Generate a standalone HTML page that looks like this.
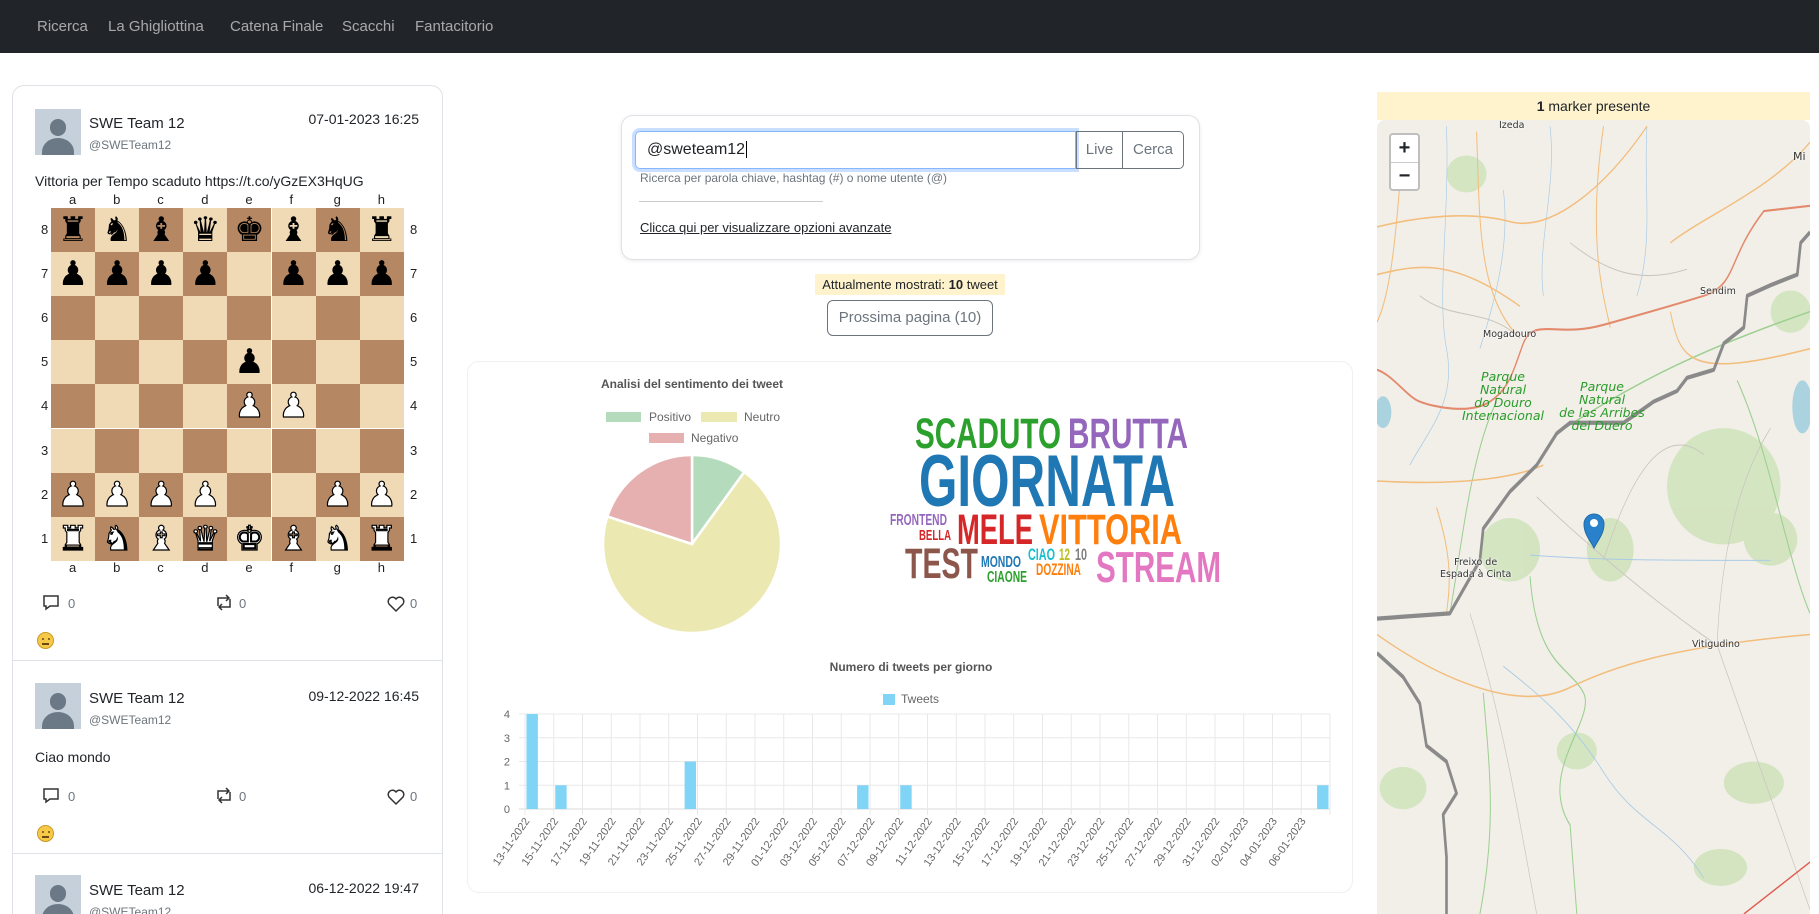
<!DOCTYPE html>
<html style="width:1819px;height:914px;overflow:hidden"><head><meta charset="utf-8"><style>
*{box-sizing:border-box;margin:0;padding:0}
body{width:1819px;height:914px;overflow:hidden;background:#fff;font-family:"Liberation Sans",sans-serif;position:relative;color:#212529}
.a{position:absolute;white-space:nowrap}
.nav{left:0;top:0;width:1819px;height:53px;background:#212529}
.nav span{position:absolute;top:18px;font-size:15px;color:rgba(255,255,255,.6)}
.card{border:1px solid #dee2e6;border-radius:12px;background:#fff}
.sq{position:absolute;width:44.1px;height:44.1px;text-align:center;font-family:"DejaVu Sans",sans-serif;font-size:34px;line-height:44px;color:#000}
.coord{position:absolute;font-size:13px;color:#222}
.gray{color:#6c757d}
.av{background:#c5d0da;overflow:hidden}
.av:before{content:"";position:absolute;left:32%;top:22%;width:36%;height:36%;border-radius:50%;background:#6b7886}
.av:after{content:"";position:absolute;left:15%;top:62%;width:70%;height:60%;border-radius:50% 50% 0 0;background:#6b7886}
.emo{width:17px;height:17px;border-radius:50%;background:#f7c948;border:1px solid #c99a22}
.emo:after{content:"";position:absolute;left:4px;top:10px;width:7px;height:1.5px;background:#6b4a10}
.emo:before{content:"";position:absolute;left:3.5px;top:5px;width:2px;height:2px;background:#6b4a10;box-shadow:6px 0 #6b4a10;border-radius:50%}
.ml{font-family:"DejaVu Sans",sans-serif;font-size:9.5px;color:#333;text-shadow:0 0 2px #fff,0 0 2px #fff}
.pk{font-family:"DejaVu Sans",sans-serif;font-style:italic;font-size:12.5px;color:#2a9c2a;text-align:center;line-height:13px}
</style></head><body>
<div class="a nav"><span style="left:37px">Ricerca</span><span style="left:108px">La Ghigliottina</span><span style="left:230px">Catena Finale</span><span style="left:342px">Scacchi</span><span style="left:415px">Fantacitorio</span></div>

<div class="a card" style="left:12px;top:85px;width:431px;height:829px;border-bottom:none;border-radius:12px 12px 0 0"></div>
<div class="a" style="left:12px;top:660px;width:431px;height:1px;background:#dee2e6"></div>
<div class="a" style="left:12px;top:853px;width:431px;height:1px;background:#dee2e6"></div>

<div class="a av" style="left:35px;top:109px;width:46px;height:46px"></div>
<div class="a" style="left:89px;top:115px;font-size:15px">SWE Team 12</div>
<div class="a gray" style="left:89px;top:138px;font-size:12px">@SWETeam12</div>
<div class="a" style="left:308px;top:111px;font-size:14px;width:111px;text-align:right">07-01-2023 16:25</div>
<div class="a" style="left:35px;top:173px;font-size:14px">Vittoria per Tempo scaduto https://t.co/yGzEX3HqUG</div>
<div id="board" class="a" style="left:51px;top:208px;width:353px;height:353px"></div>

<div class="a av" style="left:35px;top:683px;width:46px;height:46px"></div>
<div class="a" style="left:89px;top:690px;font-size:15px">SWE Team 12</div>
<div class="a gray" style="left:89px;top:713px;font-size:12px">@SWETeam12</div>
<div class="a" style="left:308px;top:688px;font-size:14px;width:111px;text-align:right">09-12-2022 16:45</div>
<div class="a" style="left:35px;top:749px;font-size:14px">Ciao mondo</div>

<div class="a av" style="left:35px;top:875px;width:46px;height:46px"></div>
<div class="a" style="left:89px;top:882px;font-size:15px">SWE Team 12</div>
<div class="a gray" style="left:89px;top:905px;font-size:12px">@SWETeam12</div>
<div class="a" style="left:308px;top:880px;font-size:14px;width:111px;text-align:right">06-12-2022 19:47</div>

<svg class="a" style="left:0;top:0" width="460" height="914">
<g fill="none" stroke="#333" stroke-width="1.5">
<g><path d="M44 596h14v10h-8l-4 3v-3h-2z"/><path d="M218 606v-8h11M226 595l3 3-3 3M230 599v8h-11M222 610l-3-3 3-3"/><path d="M396 611l-7-7a4 4 0 0 1 7-5a4 4 0 0 1 7 5z"/></g>
<g transform="translate(0,193)"><path d="M44 596h14v10h-8l-4 3v-3h-2z"/><path d="M218 606v-8h11M226 595l3 3-3 3M230 599v8h-11M222 610l-3-3 3-3"/><path d="M396 611l-7-7a4 4 0 0 1 7-5a4 4 0 0 1 7 5z"/></g>
</g>
<g font-family="Liberation Sans" font-size="13" fill="#6c757d"><text x="68" y="608">0</text><text x="239" y="608">0</text><text x="410" y="608">0</text>
<text x="68" y="801">0</text><text x="239" y="801">0</text><text x="410" y="801">0</text></g>
</svg>
<div class="a emo" style="left:37px;top:632px"></div>
<div class="a emo" style="left:37px;top:825px"></div>

<div class="a card" style="left:621px;top:115px;width:579px;height:145px;box-shadow:0 1px 4px rgba(0,0,0,.08)"></div>
<div class="a" style="left:635px;top:131px;width:441px;height:38px;border:1px solid #86b7fe;box-shadow:0 0 0 3px rgba(13,110,253,.22);border-radius:5px 0 0 5px;font-size:16px;padding:9px 11px">@sweteam12<span style="border-left:1px solid #000;margin-left:1px"></span></div>
<div class="a" style="left:1076px;top:131px;width:47px;height:38px;border:1px solid #6c757d;font-size:15px;color:#6c757d;text-align:center;line-height:36px">Live</div>
<div class="a" style="left:1122px;top:131px;width:62px;height:38px;border:1px solid #6c757d;border-radius:0 5px 5px 0;font-size:15px;color:#6c757d;text-align:center;line-height:36px">Cerca</div>
<div class="a gray" style="left:640px;top:171px;font-size:12px">Ricerca per parola chiave, hashtag (#) o nome utente (@)</div>
<div class="a" style="left:639px;top:201px;width:184px;height:1px;background:#ccc"></div>
<div class="a" style="left:640px;top:220px;font-size:13px;text-decoration:underline">Clicca qui per visualizzare opzioni avanzate</div>
<div class="a" style="left:815px;top:274px;width:190px;height:21px;background:#fff3cd;font-size:13px;line-height:21px;text-align:center">Attualmente mostrati: <b>10</b> tweet</div>
<div class="a" style="left:827px;top:300px;width:166px;height:36px;border:1px solid #6c757d;border-radius:6px;font-size:15px;color:#6c757d;text-align:center;line-height:34px">Prossima pagina (10)</div>

<div class="a card" style="left:467px;top:361px;width:886px;height:532px;border-color:#f0f0f0"></div>
<svg class="a" style="left:0;top:0" width="1819" height="914" font-family="Liberation Sans">
<text x="692" y="388" text-anchor="middle" font-size="12" font-weight="bold" fill="#555">Analisi del sentimento dei tweet</text>
<rect x="606" y="412" width="35" height="10" fill="#b4dcbc"/><text x="649" y="421" font-size="12" fill="#666">Positivo</text>
<rect x="701" y="412" width="36" height="10" fill="#ebe8b2"/><text x="744" y="421" font-size="12" fill="#666">Neutro</text>
<rect x="649" y="433" width="35" height="10" fill="#e6b0b0"/><text x="691" y="442" font-size="12" fill="#666">Negativo</text>
<g stroke="#fff" stroke-width="2.5">
<path d="M692,544 L692,455 A89,89 0 0 1 744.3,472 Z" fill="#b4dcbc"/>
<path d="M692,544 L744.3,472 A89,89 0 1 1 607.4,516.5 Z" fill="#ebe8b2"/>
<path d="M692,544 L607.4,516.5 A89,89 0 0 1 692,455 Z" fill="#e6b0b0"/>
</g>
<g font-weight="bold">
<text x="915" y="448" font-size="43" textLength="146" lengthAdjust="spacingAndGlyphs" fill="#2ca02c">SCADUTO</text>
<text x="1068" y="448" font-size="43" textLength="120" lengthAdjust="spacingAndGlyphs" fill="#9467bd">BRUTTA</text>
<text x="919" y="506" font-size="73" textLength="256" lengthAdjust="spacingAndGlyphs" fill="#1f77b4">GIORNATA</text>
<text x="890" y="525" font-size="16" textLength="57" lengthAdjust="spacingAndGlyphs" fill="#9467bd">FRONTEND</text>
<text x="919" y="540" font-size="15" textLength="32" lengthAdjust="spacingAndGlyphs" fill="#d62728">BELLA</text>
<text x="957" y="544" font-size="43" textLength="76" lengthAdjust="spacingAndGlyphs" fill="#d62728">MELE</text>
<text x="1039" y="544" font-size="43" textLength="143" lengthAdjust="spacingAndGlyphs" fill="#ff7f0e">VITTORIA</text>
<text x="905" y="578" font-size="43" textLength="73" lengthAdjust="spacingAndGlyphs" fill="#8c564b">TEST</text>
<text x="981" y="567" font-size="16" textLength="40" lengthAdjust="spacingAndGlyphs" fill="#1f77b4">MONDO</text>
<text x="987" y="582" font-size="16" textLength="40" lengthAdjust="spacingAndGlyphs" fill="#2ca02c">CIAONE</text>
<text x="1028" y="560" font-size="17" textLength="27" lengthAdjust="spacingAndGlyphs" fill="#17becf">CIAO</text>
<text x="1059" y="560" font-size="17" textLength="11" lengthAdjust="spacingAndGlyphs" fill="#bcbd22">12</text>
<text x="1075" y="560" font-size="17" textLength="12" lengthAdjust="spacingAndGlyphs" fill="#7f7f7f">10</text>
<text x="1036" y="575" font-size="17" textLength="45" lengthAdjust="spacingAndGlyphs" fill="#ff7f0e">DOZZINA</text>
<text x="1096" y="582" font-size="44" textLength="125" lengthAdjust="spacingAndGlyphs" fill="#e377c2">STREAM</text>
</g>
<text x="911" y="671" text-anchor="middle" font-size="12" font-weight="bold" fill="#555">Numero di tweets per giorno</text>
<rect x="883" y="694" width="12" height="11" fill="#80d4f6"/><text x="901" y="703" font-size="12" fill="#666">Tweets</text>
<g id="bar"></g>
</svg>

<div class="a" style="left:1377px;top:92px;width:433px;height:28px;background:#fff3cd;font-size:14px;text-align:center;line-height:28px"><b>1</b> marker presente</div>
<div class="a" style="left:1377px;top:120px;width:433px;height:794px;background:#f2efe9;overflow:hidden;border-radius:8px 8px 0 0">
<svg width="433" height="794" viewBox="22 68 1296 1500" preserveAspectRatio="none" style="position:absolute;left:0;top:0">
<g fill="#cfe3bb" opacity=".85"><ellipse cx="1060" cy="760" rx="170" ry="110"/><ellipse cx="1200" cy="860" rx="80" ry="50"/><ellipse cx="720" cy="880" rx="70" ry="60"/><ellipse cx="420" cy="880" rx="90" ry="60"/><ellipse cx="290" cy="170" rx="60" ry="35"/><ellipse cx="1260" cy="430" rx="60" ry="40"/><ellipse cx="1150" cy="1320" rx="90" ry="40"/><ellipse cx="620" cy="1260" rx="60" ry="35"/><ellipse cx="100" cy="1330" rx="70" ry="40"/><ellipse cx="1050" cy="1480" rx="80" ry="35"/></g>
<g fill="#aad3df"><ellipse cx="40" cy="620" rx="25" ry="30"/><ellipse cx="1295" cy="610" rx="30" ry="50"/></g>
<g fill="none" stroke="#a8cbe6" stroke-width="2"><path d="M230 80 C 240 250 200 400 230 500 S 180 650 120 720"/><path d="M540 80 C 560 200 500 300 520 400"/><path d="M830 80 C 820 200 850 300 800 400"/><path d="M480 890 C 700 900 900 900 1200 900"/><path d="M400 1100 C 500 1150 600 1200 700 1300 S 900 1400 1000 1500"/><path d="M400 200 C 420 300 380 400 330 500"/></g>
<g fill="none" stroke="#9ccf90" stroke-width="3"><path d="M380 600 C 300 700 270 900 240 1000"/><path d="M560 660 C 800 560 1000 500 1318 430"/><path d="M480 930 C 500 1100 600 1100 640 1150 S 500 1300 600 1400 L 620 1568"/><path d="M340 1150 C 360 1300 380 1400 330 1568"/><path d="M1100 560 C 1200 700 1250 900 1318 1000"/></g>
<g fill="none" stroke="#f3bd7c" stroke-width="3"><path d="M22 1040 C 200 1120 440 1190 600 1140 S 960 1060 1318 1040"/><path d="M22 750 C 300 760 450 740 520 720"/><path d="M22 270 C 150 250 300 240 420 260 S 700 200 830 80"/><path d="M320 90 C 330 250 320 400 450 480"/><path d="M900 430 C 930 520 950 560 1318 500"/><path d="M200 800 C 250 900 240 950 230 1000"/><path d="M700 80 C 650 300 700 400 720 460"/><path d="M100 100 C 80 300 60 400 22 450"/><path d="M22 360 C 150 340 250 330 450 420"/><path d="M1318 110 C 1200 200 1000 250 900 300"/></g>
<g fill="none" stroke="#c9c5bd" stroke-width="2"><path d="M500 780 C 700 900 900 1000 1040 1060 L 1318 1560"/><path d="M700 900 C 800 700 900 650 1000 700"/><path d="M1040 1060 C 1050 900 1100 750 1200 650"/><path d="M300 1000 C 400 1200 450 1400 500 1568"/><path d="M600 300 C 700 350 800 380 950 350"/><path d="M150 400 C 250 450 350 420 450 480"/></g>
<path d="M22 540 C 70 550 110 590 150 600 S 300 625 360 600 S 430 540 460 490 S 560 480 700 455 S 900 420 1000 400 S 1070 330 1180 240 L 1318 230" fill="none" stroke="#e38a6d" stroke-width="4"/>
<path d="M1120 1568 L 1318 1470" fill="none" stroke="#e05a4f" stroke-width="3"/>
<g fill="none" stroke="#8a8a8a" stroke-width="8" stroke-linejoin="round"><path d="M22 1010 L240 1000 L330 900 L340 840 L420 770 L500 720 L560 660 L600 640 L700 640 L760 640 L850 600 L920 580 L950 555 L1030 540 L1060 490 L1120 460 L1130 400 L1200 380 L1280 360 L1290 300 L1318 280"/><path d="M22 1075 L100 1120 L150 1170 L170 1250 L230 1280 L260 1340 L220 1380 L230 1460 L230 1568"/></g>
</svg>
<div class="a ml" style="left:122px;top:0px">Izeda</div>
<div class="a ml" style="left:106px;top:209px">Mogadouro</div>
<div class="a ml" style="left:323px;top:166px">Sendim</div>
<div class="a ml" style="left:63px;top:437px;text-align:center;line-height:12px">Freixo de<br>Espada à Cinta</div>
<div class="a ml" style="left:315px;top:519px">Vitigudino</div>
<div class="a ml" style="left:416px;top:30px;font-size:11px">Mi</div>
<div class="a pk" style="left:76px;top:250px;width:100px">Parque<br>Natural<br>do Douro<br>Internacional</div>
<div class="a pk" style="left:165px;top:260px;width:120px">Parque<br>Natural<br>de las Arribes<br>del Duero</div>
<svg class="a" style="left:205px;top:392px" width="24" height="38"><path d="M12 36 C 8 28 2 22 2 12 A10 10 0 0 1 22 12 C 22 22 16 28 12 36Z" fill="#2a81cb" stroke="#1f6bad"/><circle cx="12" cy="11" r="4" fill="#fff"/></svg>
<div class="a" style="left:12px;top:13px;width:31px;height:58px;background:#fff;border:2px solid rgba(0,0,0,.25);border-radius:4px;font-size:20px;font-weight:bold;text-align:center;line-height:27px">+<div style="border-top:1px solid #ccc">−</div></div>
</div>

<script>
(function(){
var b=document.getElementById('board'),h='';
var r8='♜♞♝♛♚♝♞♜',r1='♖♘♗♕♔♗♘♖';
var P={};
for(var i=0;i<8;i++){P['0'+i]=r8[i];P['7'+i]=r1[i];}
[0,1,2,3,5,6,7].forEach(function(c){P['1'+c]='♟';});
[0,1,2,3,6,7].forEach(function(c){P['6'+c]='♙';});
P['34']='♟';P['44']='♙';P['45']='♙';
var s=44.1;
for(var r=0;r<8;r++)for(var c=0;c<8;c++){
var col=((r+c)%2==0)?'#b58863':'#f0d9b5';
var p=P[''+r+c]||'';
var st=p&&'♖♘♗♕♔♙'.indexOf(p)>=0;
if(st){p={'♖':'♜','♘':'♞','♗':'♝','♕':'♛','♔':'♚','♙':'♟'}[p];}
h+='<div class="sq" style="left:'+(c*s)+'px;top:'+(r*s)+'px;background:'+col+';'+(st?'color:#fff;-webkit-text-stroke:1.2px #000;':'')+'">'+p+'</div>';
}
var L='abcdefgh';
for(var i=0;i<8;i++){
h+='<div class="coord" style="left:'+(i*s+18)+'px;top:-16px">'+L[i]+'</div>';
h+='<div class="coord" style="left:'+(i*s+18)+'px;top:352px">'+L[i]+'</div>';
h+='<div class="coord" style="left:-10px;top:'+(i*s+14)+'px">'+(8-i)+'</div>';
h+='<div class="coord" style="left:359px;top:'+(i*s+14)+'px">'+(8-i)+'</div>';
}
b.innerHTML=h;
var g=document.getElementById('bar'),o='';
var x0=525,x1=1330,yb=809,u=23.75,cw=(x1-x0)/56;
for(var k=0;k<=4;k++){var y=yb-k*u;o+='<line x1="519" x2="1330" y1="'+y+'" y2="'+y+'" stroke="'+(k==0?'#d8d8d8':'#e8e8e8')+'"/><text x="510" y="'+(y+4)+'" font-size="11" fill="#666" text-anchor="end">'+k+'</text>';}
var d0=new Date(2022,10,13);
for(var k=0;k<=28;k++){var x=x0+k*cw*2;o+='<line x1="'+x+'" x2="'+x+'" y1="714" y2="815" stroke="#e8e8e8"/>';
if(k<28){var d=new Date(d0.getTime()+k*2*864e5+36e5);var t=('0'+d.getDate()).slice(-2)+'-'+('0'+(d.getMonth()+1)).slice(-2)+'-'+d.getFullYear();
o+='<text transform="translate('+(x+5)+',821) rotate(-55)" font-size="11" fill="#666" text-anchor="end">'+t+'</text>';}}
[[0,4],[2,1],[11,2],[23,1],[26,1],[55,1]].forEach(function(v){var cx=x0+(v[0]+.5)*cw;o+='<rect x="'+(cx-5.7)+'" y="'+(yb-v[1]*u)+'" width="11.4" height="'+(v[1]*u)+'" fill="#80d4f6"/>';});
g.innerHTML=o;
})();
</script>
</body></html>
